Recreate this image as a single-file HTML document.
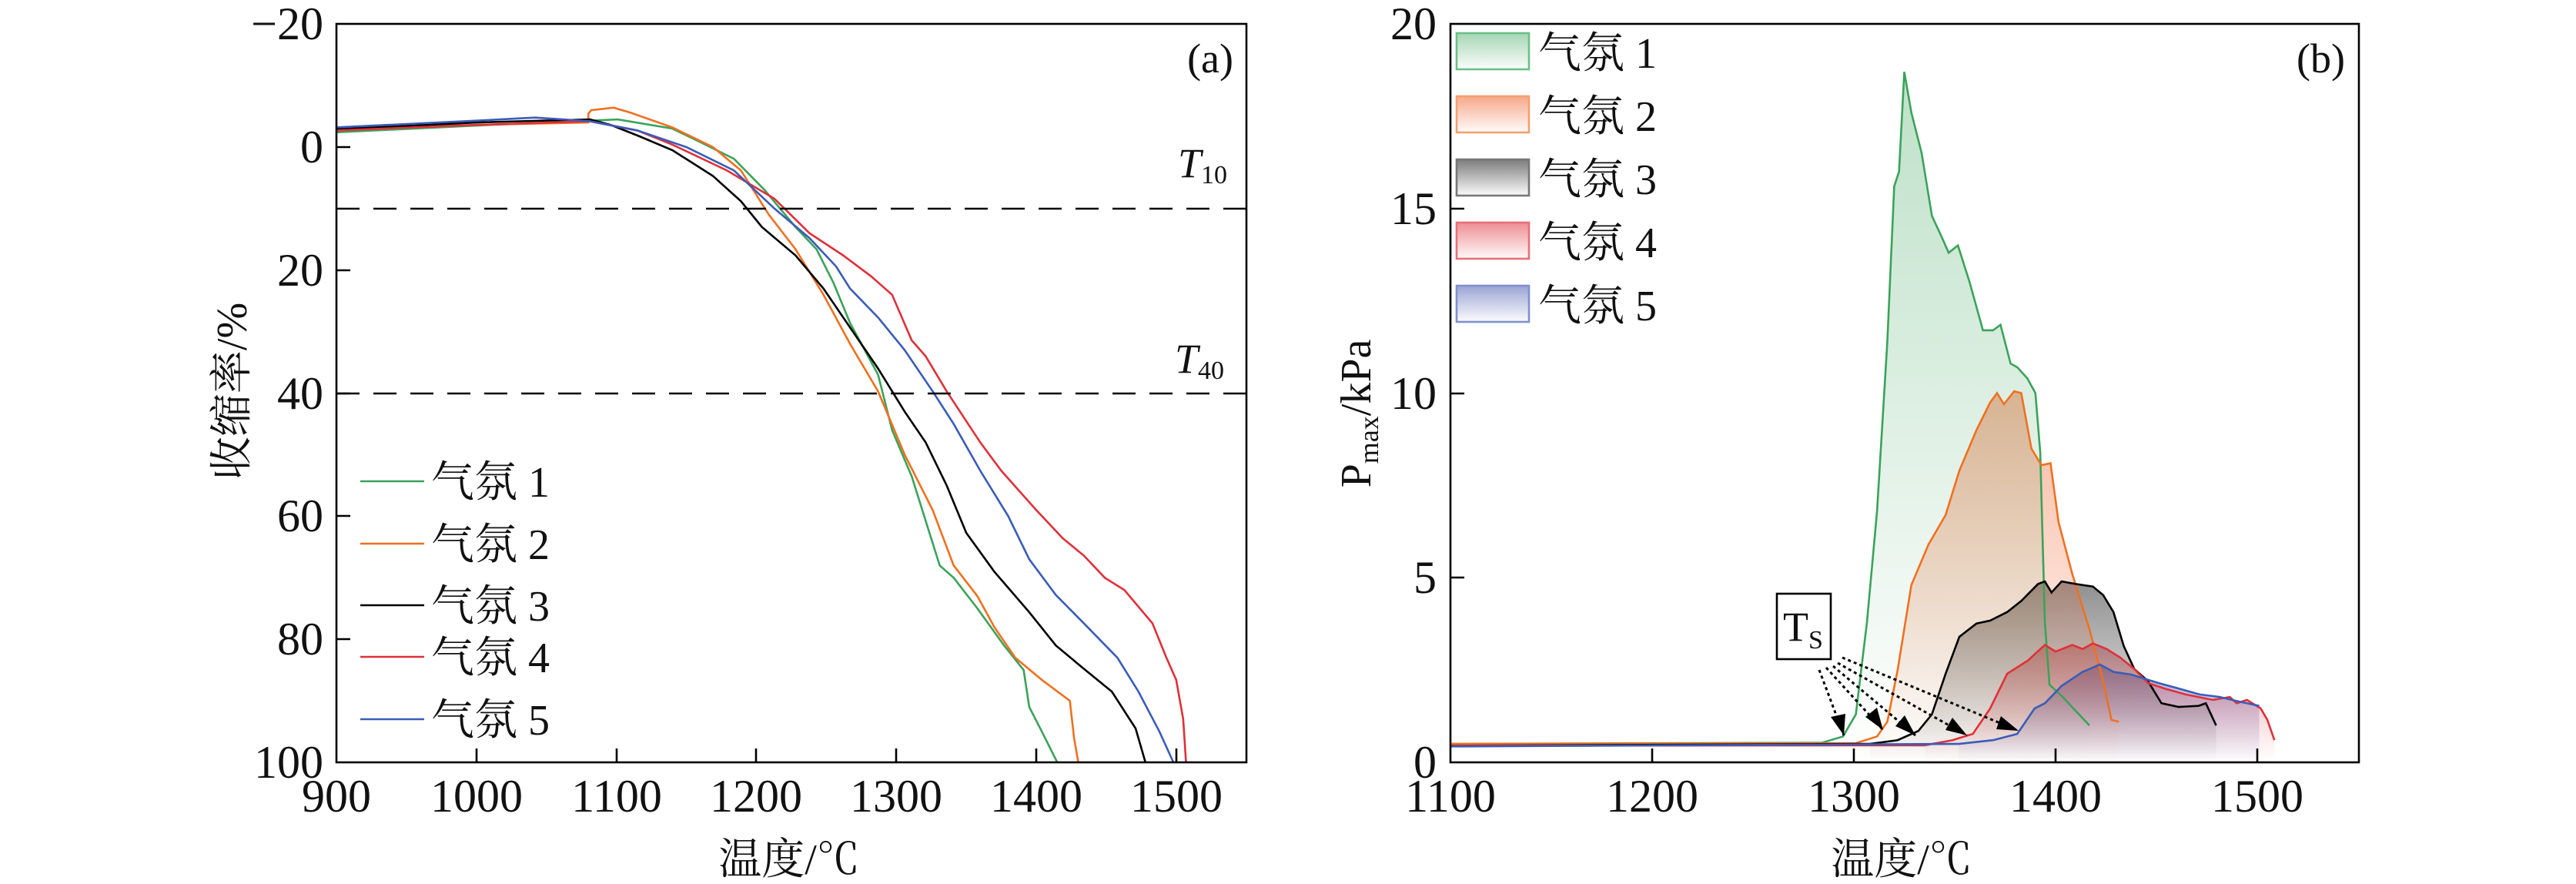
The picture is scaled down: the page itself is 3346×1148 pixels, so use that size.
<!DOCTYPE html>
<html><head><meta charset="utf-8"><style>
html,body{margin:0;padding:0;background:#fff;}
svg{display:block;}
text{font-family:"Liberation Serif","Noto Serif CJK SC","Noto Sans CJK SC",serif;fill:#111;}
</style></head><body>
<svg width="3346" height="1148" viewBox="0 0 3346 1148" xmlns="http://www.w3.org/2000/svg">
<defs>
<linearGradient id="gG" x1="0" y1="1" x2="0" y2="0"><stop offset="0" stop-color="#3aa35a" stop-opacity="0.33"/><stop offset="1" stop-color="#3aa35a" stop-opacity="0"/></linearGradient>
<linearGradient id="gO" x1="0" y1="1" x2="0" y2="0"><stop offset="0" stop-color="#f0602a" stop-opacity="0.45"/><stop offset="1" stop-color="#f0602a" stop-opacity="0"/></linearGradient>
<linearGradient id="gK" x1="0" y1="1" x2="0" y2="0"><stop offset="0" stop-color="#444" stop-opacity="0.6"/><stop offset="1" stop-color="#444" stop-opacity="0"/></linearGradient>
<linearGradient id="gR" x1="0" y1="1" x2="0" y2="0"><stop offset="0" stop-color="#e0303a" stop-opacity="0.45"/><stop offset="1" stop-color="#e0303a" stop-opacity="0"/></linearGradient>
<linearGradient id="gB" x1="0" y1="1" x2="0" y2="0"><stop offset="0" stop-color="#4a5ab0" stop-opacity="0.5"/><stop offset="1" stop-color="#4a5ab0" stop-opacity="0"/></linearGradient>
<linearGradient id="lG" x1="0" y1="0" x2="0" y2="1"><stop offset="0" stop-color="#3aa35a" stop-opacity="0.45"/><stop offset="1" stop-color="#3aa35a" stop-opacity="0.02"/></linearGradient>
<linearGradient id="lO" x1="0" y1="0" x2="0" y2="1"><stop offset="0" stop-color="#f0602a" stop-opacity="0.55"/><stop offset="1" stop-color="#f0602a" stop-opacity="0.02"/></linearGradient>
<linearGradient id="lK" x1="0" y1="0" x2="0" y2="1"><stop offset="0" stop-color="#444" stop-opacity="0.7"/><stop offset="1" stop-color="#444" stop-opacity="0.02"/></linearGradient>
<linearGradient id="lR" x1="0" y1="0" x2="0" y2="1"><stop offset="0" stop-color="#e0303a" stop-opacity="0.55"/><stop offset="1" stop-color="#e0303a" stop-opacity="0.02"/></linearGradient>
<linearGradient id="lB" x1="0" y1="0" x2="0" y2="1"><stop offset="0" stop-color="#4a5ab0" stop-opacity="0.55"/><stop offset="1" stop-color="#4a5ab0" stop-opacity="0.02"/></linearGradient>
<clipPath id="ca"><rect x="437" y="31" width="1182" height="959"/></clipPath>
<clipPath id="cb"><rect x="1884" y="31" width="1180" height="959"/></clipPath>
</defs>

<!-- ========== Panel A ========== -->
<g clip-path="url(#ca)">
<g transform="translate(-1199.2,191) scale(1.818,7.99)" fill="none" stroke-width="2.6">
<path vector-effect="non-scaling-stroke" stroke="#3aa35a" d="M900,-2.4 L1000,-3.5 L1081,-4.3 L1101,-4.5 L1140,-3 L1160,-0.8 L1184,1.9 L1206,7 L1228,13 L1243,16.6 L1255,22 L1267,28.6 L1287,37 L1297,46 L1311,53.5 L1331,68 L1341,70 L1358,75 L1377,81 L1391,85 L1395,91 L1404,95 L1415,100"/>
<path vector-effect="non-scaling-stroke" stroke="#f07020" d="M900,-3 L1000,-3.6 L1080,-4 L1080,-5.4 L1082,-6 L1098,-6.4 L1110,-5.6 L1140,-3.2 L1169,0 L1189,3.8 L1209,11 L1228,16.6 L1248,24 L1267,32 L1287,39.7 L1306,50 L1326,59 L1341,68 L1358,73 L1370,78 L1385,83 L1404,86.6 L1424,90 L1427,96 L1430,100"/>
<path vector-effect="non-scaling-stroke" stroke="#000" d="M900,-2.9 L1000,-4 L1081,-4.5 L1096,-3.6 L1116,-1.8 L1140,0.5 L1169,4.7 L1189,8.8 L1204,13 L1228,17.6 L1248,23 L1272,31 L1287,36 L1306,43 L1321,48 L1336,55 L1350,62.7 L1370,69 L1395,75.6 L1414,81 L1434,84.8 L1454,88.5 L1471,94.5 L1478,100"/>
<path vector-effect="non-scaling-stroke" stroke="#e0303a" d="M900,-2.7 L1000,-3.6 L1081,-4.2 L1115,-2.7 L1140,-0.4 L1179,3.8 L1213,8.4 L1238,14 L1262,17.6 L1282,21 L1297,24 L1311,31.4 L1321,34 L1336,39.7 L1360,48 L1375,52.6 L1400,59 L1419,63.6 L1434,66.4 L1449,70 L1463,72 L1483,77.4 L1493,83 L1500,86.6 L1505,93 L1507,100"/>
<path vector-effect="non-scaling-stroke" stroke="#3a5cb8" d="M900,-3.2 L1000,-4.3 L1042,-4.8 L1081,-4.2 L1115,-2.7 L1150,0 L1184,3.8 L1213,10 L1238,14.8 L1257,19.4 L1267,23 L1287,27.7 L1306,33 L1326,39.7 L1341,45 L1360,52.6 L1380,60 L1395,67 L1414,72.8 L1434,77.4 L1458,83 L1473,88.5 L1488,95 L1498,100"/>
</g>
</g>
<line x1="437" y1="271" x2="1619" y2="271" stroke="#000" stroke-width="2.6" stroke-dasharray="30,18"/>
<line x1="437" y1="511" x2="1619" y2="511" stroke="#000" stroke-width="2.6" stroke-dasharray="30,18"/>
<rect x="437" y="31" width="1182" height="959" fill="none" stroke="#000" stroke-width="2.6"/>
<g stroke="#000" stroke-width="2.6">
<line x1="619" y1="990" x2="619" y2="972"/><line x1="801" y1="990" x2="801" y2="972"/><line x1="982" y1="990" x2="982" y2="972"/><line x1="1164" y1="990" x2="1164" y2="972"/><line x1="1346" y1="990" x2="1346" y2="972"/><line x1="1528" y1="990" x2="1528" y2="972"/>
<line x1="437" y1="191" x2="455" y2="191"/><line x1="437" y1="351" x2="455" y2="351"/><line x1="437" y1="511" x2="455" y2="511"/><line x1="437" y1="670" x2="455" y2="670"/><line x1="437" y1="830" x2="455" y2="830"/>
</g>
<g font-size="60" text-anchor="end">
<text x="420" y="51">−20</text><text x="420" y="211">0</text><text x="420" y="371">20</text><text x="420" y="531">40</text><text x="420" y="690">60</text><text x="420" y="850">80</text><text x="420" y="1010">100</text>
</g>
<g font-size="60" text-anchor="middle">
<text x="437" y="1054">900</text><text x="619" y="1054">1000</text><text x="801" y="1054">1100</text><text x="982" y="1054">1200</text><text x="1164" y="1054">1300</text><text x="1346" y="1054">1400</text><text x="1528" y="1054">1500</text>
</g>
<text x="1025" y="1135" font-size="56" text-anchor="middle">温度/℃</text>
<text transform="translate(320,508) rotate(-90)" font-size="56" text-anchor="middle">收缩率/%</text>
<text x="1602" y="94" font-size="54" text-anchor="end">(a)</text>
<text x="1530" y="230" font-size="54" font-style="italic">T<tspan font-size="34" font-style="normal" dy="8">10</tspan></text>
<text x="1526" y="484" font-size="54" font-style="italic">T<tspan font-size="34" font-style="normal" dy="8">40</tspan></text>
<g stroke-width="2.6">
<line x1="468" y1="625" x2="551" y2="625" stroke="#3aa35a"/>
<line x1="468" y1="706" x2="551" y2="706" stroke="#f07020"/>
<line x1="468" y1="786" x2="551" y2="786" stroke="#000"/>
<line x1="468" y1="853" x2="551" y2="853" stroke="#e0303a"/>
<line x1="468" y1="934" x2="551" y2="934" stroke="#3a5cb8"/>
</g>
<g font-size="56">
<text x="560" y="645">气氛 1</text><text x="560" y="726">气氛 2</text><text x="560" y="806">气氛 3</text><text x="560" y="873">气氛 4</text><text x="560" y="954">气氛 5</text>
</g>

<!-- ========== Panel B ========== -->
<g clip-path="url(#cb)">
<g transform="translate(-998,990) scale(2.62,-47.95)">
<path fill="url(#gB)" d="M1352,0.5 L1369,0.6 L1381,0.77 L1389.6,1.46 L1394.7,1.6 L1403,2.07 L1413.4,2.45 L1422,2.65 L1428.7,2.45 L1437.3,2.38 L1450.9,2.15 L1461,2 L1471.3,1.84 L1481.4,1.77 L1491.5,1.64 L1501,1.53 L1501,0 L1352,0 z"/>
<path fill="url(#gR)" d="M1335,0.45 L1348.9,0.6 L1359,0.77 L1367.6,1.46 L1376,2.4 L1386.3,2.76 L1394.7,3.18 L1400,3 L1408.3,3.18 L1413.4,3.07 L1418.5,3.22 L1425.3,3.07 L1432,2.84 L1439,2.53 L1445.8,2.15 L1454,2 L1464.4,1.84 L1478,1.69 L1486.4,1.77 L1489.8,1.6 L1494.9,1.69 L1501.7,1.46 L1505,1.15 L1508.5,0.6 L1508.5,0 L1335,0 z"/>
<path fill="url(#gK)" d="M1308,0.5 L1321.7,0.6 L1332,0.85 L1338.7,1.3 L1345.5,2.4 L1352.3,3.4 L1360.8,3.76 L1367.6,3.84 L1376,4.07 L1383,4.37 L1391.3,4.83 L1394.7,4.9 L1398,4.6 L1403,4.9 L1410,4.83 L1418.5,4.76 L1423.6,4.53 L1428.7,4.07 L1433.8,3.15 L1439,2.53 L1445.8,2.2 L1452.5,1.6 L1461,1.5 L1471,1.53 L1474.5,1.6 L1479.6,1 L1479.6,0 L1308,0 z"/>
<path fill="url(#gO)" d="M1301,0.5 L1311.5,0.7 L1316.6,1.1 L1321.7,2.5 L1328.5,4.8 L1337,5.9 L1345.5,6.7 L1352.3,7.9 L1360.8,9 L1367.6,9.75 L1371,10 L1374.4,9.7 L1379.5,10.05 L1383,10 L1388,8.5 L1393,8.05 L1397.5,8.1 L1401.5,6.5 L1408.3,5.1 L1416.8,3.6 L1423.6,2.2 L1427.7,1.15 L1431.4,1.1 L1431.4,0 L1301,0 z"/>
<path fill="url(#gG)" d="M1284,0.5 L1294.6,0.7 L1301,1.3 L1306.5,3.8 L1311.5,6.8 L1316.6,11.4 L1320,15.6 L1322.4,16 L1325,18.7 L1328.5,17.6 L1333.6,16.5 L1338.7,14.8 L1343.8,14.2 L1347,13.8 L1351.6,14 L1357.4,13 L1364,11.7 L1369,11.7 L1372.7,11.85 L1377.7,10.8 L1381,10.7 L1386,10.4 L1390,10 L1392.4,8.4 L1394.7,3.8 L1397,2.1 L1403,1.8 L1416.8,1 L1416.8,0 L1284,0 z"/>
<g fill="none" stroke-width="2.6">
<path vector-effect="non-scaling-stroke" stroke="#3aa35a" d="M1100,0.5 L1284,0.53 L1294.6,0.7 L1301,1.3 L1306.5,3.8 L1311.5,6.8 L1316.6,11.4 L1320,15.6 L1322.4,16 L1325,18.7 L1328.5,17.6 L1333.6,16.5 L1338.7,14.8 L1343.8,14.2 L1347,13.8 L1351.6,14 L1357.4,13 L1364,11.7 L1369,11.7 L1372.7,11.85 L1377.7,10.8 L1381,10.7 L1386,10.4 L1390,10 L1392.4,8.4 L1394.7,3.8 L1397,2.1 L1403,1.8 L1416.8,1"/>
<path vector-effect="non-scaling-stroke" stroke="#f07020" d="M1100,0.5 L1301,0.52 L1311.5,0.7 L1316.6,1.1 L1321.7,2.5 L1328.5,4.8 L1337,5.9 L1345.5,6.7 L1352.3,7.9 L1360.8,9 L1367.6,9.75 L1371,10 L1374.4,9.7 L1379.5,10.05 L1383,10 L1388,8.5 L1393,8.05 L1397.5,8.1 L1401.5,6.5 L1408.3,5.1 L1416.8,3.6 L1423.6,2.2 L1427.7,1.15 L1431.4,1.1"/>
<path vector-effect="non-scaling-stroke" stroke="#000" d="M1100,0.45 L1308,0.5 L1321.7,0.6 L1332,0.85 L1338.7,1.3 L1345.5,2.4 L1352.3,3.4 L1360.8,3.76 L1367.6,3.84 L1376,4.07 L1383,4.37 L1391.3,4.83 L1394.7,4.9 L1398,4.6 L1403,4.9 L1410,4.83 L1418.5,4.76 L1423.6,4.53 L1428.7,4.07 L1433.8,3.15 L1439,2.53 L1445.8,2.2 L1452.5,1.6 L1461,1.5 L1471,1.53 L1474.5,1.6 L1479.6,1"/>
<path vector-effect="non-scaling-stroke" stroke="#e0303a" d="M1100,0.45 L1335,0.46 L1348.9,0.6 L1359,0.77 L1367.6,1.46 L1376,2.4 L1386.3,2.76 L1394.7,3.18 L1400,3 L1408.3,3.18 L1413.4,3.07 L1418.5,3.22 L1425.3,3.07 L1432,2.84 L1439,2.53 L1445.8,2.15 L1454,2 L1464.4,1.84 L1478,1.69 L1486.4,1.77 L1489.8,1.6 L1494.9,1.69 L1501.7,1.46 L1505,1.15 L1508.5,0.6"/>
<path vector-effect="non-scaling-stroke" stroke="#3a5cb8" d="M1100,0.43 L1352,0.5 L1369,0.6 L1381,0.77 L1389.6,1.46 L1394.7,1.6 L1403,2.07 L1413.4,2.45 L1422,2.65 L1428.7,2.45 L1437.3,2.38 L1450.9,2.15 L1461,2 L1471.3,1.84 L1481.4,1.77 L1491.5,1.64 L1501,1.53"/>
</g>
</g>
</g>
<rect x="1884" y="31" width="1180" height="959" fill="none" stroke="#000" stroke-width="2.6"/>
<g stroke="#000" stroke-width="2.6">
<line x1="2146" y1="990" x2="2146" y2="972"/><line x1="2408" y1="990" x2="2408" y2="972"/><line x1="2670" y1="990" x2="2670" y2="972"/><line x1="2932" y1="990" x2="2932" y2="972"/>
<line x1="1884" y1="750" x2="1902" y2="750"/><line x1="1884" y1="511" x2="1902" y2="511"/><line x1="1884" y1="271" x2="1902" y2="271"/>
</g>
<g font-size="60" text-anchor="end">
<text x="1866" y="51">20</text><text x="1866" y="291">15</text><text x="1866" y="531">10</text><text x="1866" y="770">5</text><text x="1866" y="1010">0</text>
</g>
<g font-size="60" text-anchor="middle">
<text x="1884" y="1054">1100</text><text x="2146" y="1054">1200</text><text x="2408" y="1054">1300</text><text x="2670" y="1054">1400</text><text x="2932" y="1054">1500</text>
</g>
<text x="2470" y="1135" font-size="56" text-anchor="middle">温度/℃</text>
<text transform="translate(1780,537) rotate(-90)" font-size="56" text-anchor="middle">P<tspan font-size="36" dy="10">max</tspan><tspan dy="-10">/kPa</tspan></text>
<text x="3046" y="94" font-size="54" text-anchor="end">(b)</text>
<g stroke-width="2.6">
<rect x="1892" y="43" width="94" height="47" fill="url(#lG)" stroke="#6cc088"/>
<rect x="1892" y="125" width="94" height="47" fill="url(#lO)" stroke="#f4a070"/>
<rect x="1892" y="207" width="94" height="47" fill="url(#lK)" stroke="#777"/>
<rect x="1892" y="289" width="94" height="47" fill="url(#lR)" stroke="#e87078"/>
<rect x="1892" y="371" width="94" height="47" fill="url(#lB)" stroke="#8090d0"/>
</g>
<g font-size="56">
<text x="1998" y="88">气氛 1</text><text x="1998" y="170">气氛 2</text><text x="1998" y="252">气氛 3</text><text x="1998" y="334">气氛 4</text><text x="1998" y="416">气氛 5</text>
</g>
<rect x="2308" y="771" width="70" height="85" fill="#fff" stroke="#000" stroke-width="2.6"/>
<text x="2316" y="832" font-size="54">T<tspan font-size="34" dy="10">S</tspan></text>
<g stroke="#000" stroke-width="3" stroke-dasharray="4,4" fill="none">
<line x1="2363" y1="870" x2="2395" y2="955"/>
<line x1="2372" y1="867" x2="2446" y2="948"/>
<line x1="2381" y1="865" x2="2488" y2="955"/>
<line x1="2387" y1="861" x2="2555" y2="955"/>
<line x1="2393" y1="854" x2="2622" y2="949"/>
</g>
<g fill="#000">
<path d="M2395,955 L2378,931 L2397,927 z"/>
<path d="M2446,948 L2423,931 L2438,919 z"/>
<path d="M2488,955 L2462,943 L2474,929 z"/>
<path d="M2555,955 L2527,948 L2536,932 z"/>
<path d="M2622,949 L2593,947 L2599,930 z"/>
</g>
</svg>
</body></html>
